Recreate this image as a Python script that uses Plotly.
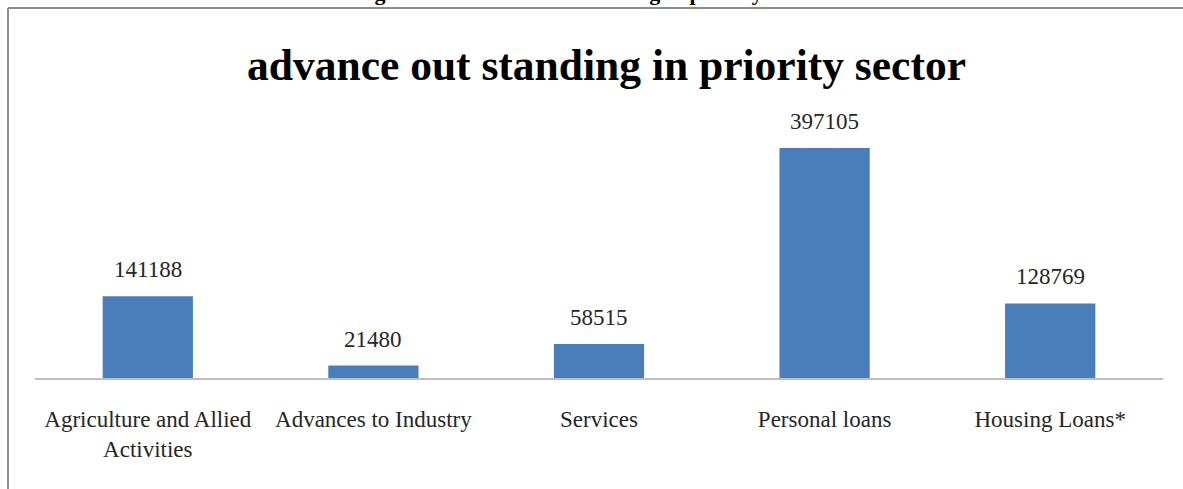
import plotly.graph_objects as go

categories = ["Agriculture and Allied<br>Activities", "Advances to Industry", "Services",
              "Personal loans", "Housing Loans*"]
values = [141188, 21480, 58515, 397105, 128769]
value_labels = ["141188", "21480", "58515", "397105", "128769"]

title_text = "advance out standing in priority sector"
caption_text = "Figure 4.4: Advance outstanding in priority sector"

W, H = 1183, 489
L, R, T, B = 35, 20, 100, 111
plot_w = W - L - R
plot_h = H - T - B

def px_x(p):
    return (p - L) / plot_w

def px_y(p):
    return (H - B - p) / plot_h

serif = "Liberation Serif, Times New Roman, serif"

fig = go.Figure()
fig.add_trace(go.Bar(
    x=categories, y=values,
    marker=dict(color="#4A7EBB", line=dict(width=0)),
    width=0.4,
    hoverinfo="skip",
))

for c, v, t in zip(categories, values, value_labels):
    fig.add_annotation(x=c, y=v, text=t, showarrow=False, xref="x", yref="y",
                       yanchor="bottom", yshift=12,
                       font=dict(family=serif, size=23, color="#262626"))

fig.add_annotation(x=px_x(606), y=px_y(65), xref="paper", yref="paper",
                   text="<b>" + title_text + "</b>", showarrow=False,
                   xanchor="center", yanchor="middle",
                   font=dict(family=serif, size=43.5, color="#000000"))

fig.add_annotation(x=px_x(590), y=px_y(6), xref="paper", yref="paper",
                   text="<b>" + caption_text + "</b>", showarrow=False,
                   xanchor="center", yanchor="bottom", borderpad=0,
                   font=dict(family=serif, size=22, color="#000000"))

# chart frame
frame = dict(color="#8C8C8C", width=2)
fig.add_shape(type="line", xref="paper", yref="paper",
              x0=px_x(8), x1=px_x(W), y0=px_y(8), y1=px_y(8), line=frame)
fig.add_shape(type="line", xref="paper", yref="paper",
              x0=px_x(8), x1=px_x(8), y0=px_y(8), y1=px_y(H), line=frame)

fig.update_layout(
    width=W, height=H,
    margin=dict(l=L, r=R, t=T, b=B, pad=0),
    paper_bgcolor="#FFFFFF", plot_bgcolor="rgba(0,0,0,0)",
    showlegend=False,
    bargap=0.6,
    xaxis=dict(showline=True, linecolor="#BFBFBF", linewidth=2, ticks="",
               showgrid=False, zeroline=False,
               tickfont=dict(family=serif, size=23, color="#262626"),
               ticklabelstandoff=19),
    yaxis=dict(visible=False, range=[0, 480000], showgrid=False, zeroline=False),
)

fig.write_html("out.html")
